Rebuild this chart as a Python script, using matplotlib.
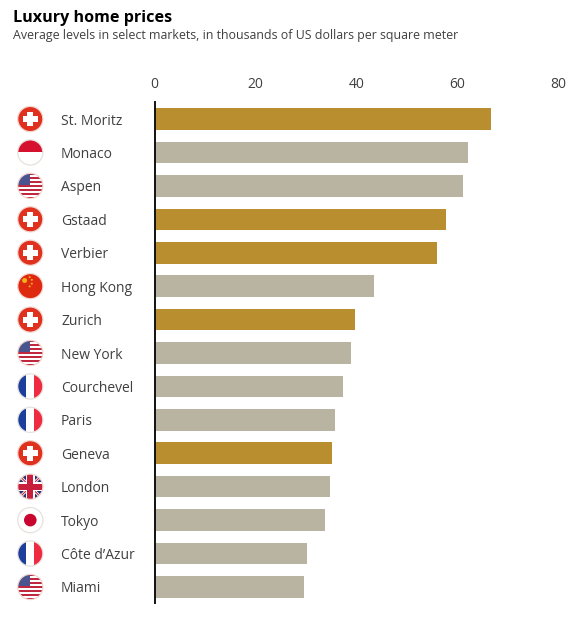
import matplotlib
matplotlib.use('Agg')
import matplotlib.pyplot as plt
from matplotlib.patches import Circle, Rectangle, Polygon

plt.rcParams['font.family'] = ['Open Sans', 'DejaVu Sans']

W, H = 580, 636

cities = ['St. Moritz', 'Monaco', 'Aspen', 'Gstaad', 'Verbier', 'Hong Kong', 'Zurich', 'New York',
          'Courchevel', 'Paris', 'Geneva', 'London', 'Tokyo', 'Côte d’Azur', 'Miami']
prices = [66.7, 62.1, 61.2, 57.8, 56.0, 43.6, 39.8, 38.9, 37.3, 35.7, 35.1, 34.8, 33.9, 30.2, 29.6]
countries = ['ch', 'mc', 'us', 'ch', 'ch', 'cn', 'ch', 'us', 'fr', 'fr', 'ch', 'uk', 'jp', 'fr', 'us']
x_ticks = [0, 20, 40, 60, 80]

GOLD = '#b88e2e'
GREY = '#b9b3a2'
TEXT = '#404040'


def clipped(fl, patch, clip):
    fl.add_patch(patch)
    patch.set_clip_path(clip)


def draw_flag(fl, kind, cx, cy, r):
    # every flag is drawn square and clipped to its disc
    base = {'ch': '#e0301e', 'cn': '#de2910', 'mc': 'white', 'us': 'white',
            'fr': 'white', 'uk': '#22336e', 'jp': 'white'}[kind]
    disc = Circle((cx, cy), r, fc=base, ec='none', zorder=2)
    fl.add_patch(disc)

    def rect(x0, y0, w, h, color):
        clipped(fl, Rectangle((cx + x0 * r, cy + y0 * r), w * r, h * r, fc=color, ec='none', zorder=3), disc)

    def diagonal(half, color):
        for dx in (1, -1):
            clipped(fl, Polygon([(cx - dx * r - half * r, cy - r), (cx - dx * r + half * r, cy - r),
                                 (cx + dx * r + half * r, cy + r), (cx + dx * r - half * r, cy + r)],
                                fc=color, ec='none', zorder=3), disc)

    if kind == 'ch':
        rect(-0.24, -0.58, 0.48, 1.16, 'white')
        rect(-0.58, -0.24, 1.16, 0.48, 'white')
    elif kind == 'mc':
        rect(-1, -1, 2, 1, '#d6102f')
    elif kind == 'fr':
        rect(-1, -1, 0.68, 2, '#1c3f9c')
        rect(0.32, -1, 0.68, 2, '#ee2b40')
    elif kind == 'jp':
        fl.add_patch(Circle((cx, cy), r * 0.5, fc='#c8062f', ec='none', zorder=3))
    elif kind == 'us':
        for k in range(7):
            rect(-1, -1 + k * 2 / 6.5, 2, 1 / 6.5, '#c0283f')
        rect(-1, -1, 0.95, 0.95, '#4a5590')
    elif kind == 'cn':
        for sx, sy, s in [(-0.45, -0.45, 0.2), (-0.05, -0.72, 0.08), (0.12, -0.5, 0.08),
                          (0.12, -0.2, 0.08), (-0.05, 0.02, 0.08)]:
            clipped(fl, Circle((cx + sx * r, cy + sy * r), s * r, fc='#f0b01c', ec='none', zorder=3), disc)
    elif kind == 'uk':
        diagonal(0.16, 'white')
        diagonal(0.06, '#c8203c')
        rect(-0.36, -1, 0.72, 2, 'white')
        rect(-1, -0.36, 2, 0.72, 'white')
        rect(-0.24, -1, 0.48, 2, '#c8203c')
        rect(-1, -0.24, 2, 0.48, '#c8203c')
    # pale rim, stronger on the flags that are white at the edge
    rim = '#e6e1dc' if kind in ('mc', 'fr', 'jp') else '#f2d8d2'
    fl.add_patch(Circle((cx, cy), r, fc='none', ec=rim, lw=0.9, zorder=5))


fig = plt.figure(figsize=(W / 100, H / 100), dpi=100)

# axes placed by pixel: x from 154.5 to 558, y from 102 to 603
ax = fig.add_axes([154.5 / W, 1 - 603 / H, (558 - 154.5) / W, (603 - 102) / H])
colors = [GOLD if c == 'ch' else GREY for c in countries]
rows = list(range(len(cities)))
ax.barh(rows, prices, height=0.645, color=colors, zorder=2)
ax.set_xlim(0, 80)
ax.set_ylim(14.48, -0.51)
ax.xaxis.tick_top()
ax.set_xticks(x_ticks)
ax.tick_params(axis='x', length=0, pad=7.4, labelsize=10, labelcolor=TEXT)
ax.set_yticks(rows)
ax.set_yticklabels(cities, ha='left', fontsize=10, color=TEXT)
ax.tick_params(axis='y', length=0, pad=(154.5 - 61) * 0.72)
for side in ['top', 'right', 'bottom']:
    ax.spines[side].set_visible(False)
ax.spines['left'].set_linewidth(1.4)
ax.spines['left'].set_color('#111111')
ax.spines['left'].set_zorder(5)
ax.patch.set_alpha(0)

# flags on a full-figure overlay in pixel units
fl = fig.add_axes([0, 0, 1, 1], zorder=3)
fl.set_xlim(0, W)
fl.set_ylim(H, 0)
fl.axis('off')
fl.patch.set_alpha(0)
for i, kind in enumerate(countries):
    px = ax.transData.transform((0, i))
    draw_flag(fl, kind, 30.3, H - px[1], 12.6)

fig.text(13 / W, 1 - 22 / H, 'Luxury home prices', fontsize=11.6, fontweight='bold', color='black',
         va='baseline')
fig.text(13 / W, 1 - 39 / H, 'Average levels in select markets, in thousands of US dollars per square meter',
         fontsize=8.9, color=TEXT, va='baseline')

fig.savefig('out.png', dpi=100)
